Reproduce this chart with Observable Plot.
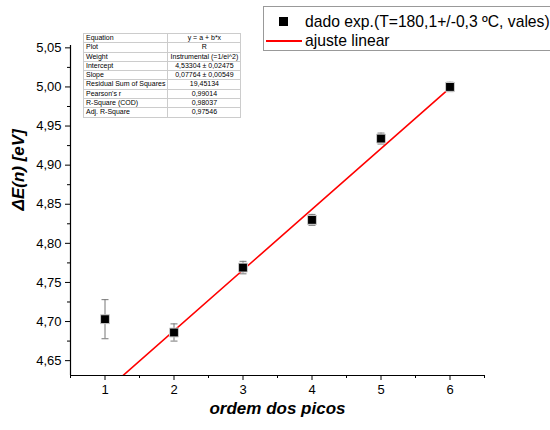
<!DOCTYPE html>
<html>
<head>
<meta charset="utf-8">
<script src="https://cdn.jsdelivr.net/npm/d3@7"></script>
<script src="https://cdn.jsdelivr.net/npm/@observablehq/plot@0.6"></script>
<style>
  body { margin: 0; background: #fff; font-family: "Liberation Sans", Arial, sans-serif; }
  #wrap { position: relative; width: 550px; height: 430px; overflow: hidden; }
  #legend { position: absolute; left: 263px; top: 6px; width: 300px; height: 45px; border: 1px solid #999; box-sizing: border-box; background: #fff; font-size: 15.7px; color: #000; }
  #legend .row { position: absolute; left: 0; height: 19px; line-height: 19px; white-space: nowrap; }
  #legend .sym { position: absolute; left: 0; width: 40px; height: 19px; }
  #legend .txt { position: absolute; left: 41px; }
  #stats { position: absolute; left: 83px; top: 33px; border-collapse: collapse; font-size: 7px; background: #fff; }
  #stats td { border: 1px solid #ccc; padding: 0 2px; height: 8.3px; line-height: 8.3px; white-space: nowrap; }
  #stats td.l { width: 77px; }
  #stats td.r { width: 68px; text-align: center; }
</style>
</head>
<body>
<div id="wrap"></div>
<script>
// ---- data ----
const ordem = [1, 2, 3, 4, 5, 6];
const deltaE = [4.703, 4.686, 4.769, 4.830, 4.934, 5.000];
const erro = [0.025, 0.011, 0.008, 0.007, 0.007, 0.006];
const fitIntercept = 4.53304;
const fitSlope = 0.07764;
const fitX = [1, 6];
const xTicks = [1, 2, 3, 4, 5, 6];
const xMinorTicks = [0.5, 1.5, 2.5, 3.5, 4.5, 5.5, 6.5];
const yTicks = [4.65, 4.70, 4.75, 4.80, 4.85, 4.90, 4.95, 5.00, 5.05];
const yMinorTicks = [4.675, 4.725, 4.775, 4.825, 4.875, 4.925, 4.975, 5.025];
const statLabels = ["Equation", "Plot", "Weight", "Intercept", "Slope", "Residual Sum of Squares", "Pearson's r", "R-Square (COD)", "Adj. R-Square"];
const statValues = ["y = a + b*x", "R", "Instrumental (=1/ei^2)", "4,53304 \u00b1 0,02475", "0,07764 \u00b1 0,00549", "19,45134", "0,99014", "0,98037", "0,97546"];
const legendLabels = ["dado exp.(T=180,1+/-0,3 \u00baC, vales)", "ajuste linear"];
const xLabel = "ordem dos picos";
const yLabel = "\u0394E(n) [eV]";

const pts = ordem.map((x, i) => ({x, y: deltaE[i], lo: deltaE[i] - erro[i], hi: deltaE[i] + erro[i]}));
const fit = fitX.map(x => ({x, y: fitIntercept + fitSlope * x}));
const xDom = [0.5, 6.5];
const yDom = [4.631, 5.053];
const comma = d => d.toFixed(2).replace(".", ",");
const cap = { draw(ctx, size) { const r = Math.sqrt(size / Math.PI); ctx.moveTo(-r, 0); ctx.lineTo(r, 0); } };

const chart = Plot.plot({
  width: 550, height: 430,
  marginLeft: 70, marginRight: 66, marginTop: 45, marginBottom: 55,
  style: { fontFamily: "'Liberation Sans', Arial, sans-serif", fontSize: "13px", color: "#000", background: "#fff" },
  x: { domain: xDom },
  y: { domain: yDom },
  marks: [
    Plot.axisX({ ticks: xTicks, tickSize: 5, tickPadding: 4, tickFormat: d => String(d), label: null, fontSize: 13 }),
    Plot.axisX({ ticks: xMinorTicks, tickSize: 3, tickFormat: () => "", label: null }),
    Plot.axisY({ ticks: yTicks, tickSize: 5, tickPadding: 4, tickFormat: comma, label: null, fontSize: 13 }),
    Plot.axisY({ ticks: yMinorTicks, tickSize: 3, tickFormat: () => "", label: null }),
    Plot.ruleX([xDom[0]], { y1: yDom[0], y2: yDom[1], stroke: "#000", strokeWidth: 1.2 }),
    Plot.ruleY([yDom[0]], { x1: xDom[0], x2: xDom[1], stroke: "#000", strokeWidth: 1.2 }),
    Plot.ruleX(pts, { x: "x", y1: "lo", y2: "hi", stroke: "#777", strokeWidth: 1 }),
    Plot.dot(pts, { x: "x", y: "lo", symbol: cap, r: 3.5, stroke: "#777", strokeWidth: 1, fill: "none" }),
    Plot.dot(pts, { x: "x", y: "hi", symbol: cap, r: 3.5, stroke: "#777", strokeWidth: 1, fill: "none" }),
    Plot.line(fit, { x: "x", y: "y", stroke: "#ff0000", strokeWidth: 1.6, clip: true }),
    Plot.dot(pts, { x: "x", y: "y", symbol: "square", r: 5, fill: "#000", stroke: "#ccc", strokeWidth: 1 }),
    Plot.text([xLabel], { frameAnchor: "bottom", dy: 38, text: d => d, fontSize: 17, fontWeight: "bold", fontStyle: "italic" }),
    Plot.text([yLabel], { frameAnchor: "left", dx: -52, rotate: -90, text: d => d, fontSize: 17, fontWeight: "bold", fontStyle: "italic" })
  ]
});

const wrap = document.getElementById("wrap");
wrap.appendChild(chart);

// stats table
const tbl = document.createElement("table");
tbl.id = "stats";
statLabels.forEach((lab, i) => {
  const tr = document.createElement("tr");
  const a = document.createElement("td"); a.className = "l"; a.textContent = lab;
  const b = document.createElement("td"); b.className = "r"; b.textContent = statValues[i];
  tr.appendChild(a); tr.appendChild(b); tbl.appendChild(tr);
});
wrap.appendChild(tbl);

// legend
const leg = document.createElement("div");
leg.id = "legend";
legendLabels.forEach((lab, i) => {
  const row = document.createElement("div");
  row.className = "row";
  row.style.top = (5 + i * 19) + "px";
  const sym = document.createElement("div");
  sym.className = "sym";
  if (i === 0) {
    sym.innerHTML = '<div style="position:absolute;left:15px;top:5px;width:9px;height:9px;background:#000"></div>';
  } else {
    sym.innerHTML = '<div style="position:absolute;left:2px;top:9px;width:36px;height:0;border-top:2px solid #ff0000"></div>';
  }
  const txt = document.createElement("span");
  txt.className = "txt"; txt.textContent = lab;
  row.appendChild(sym); row.appendChild(txt);
  leg.appendChild(row);
});
wrap.appendChild(leg);
</script>
</body>
</html>
